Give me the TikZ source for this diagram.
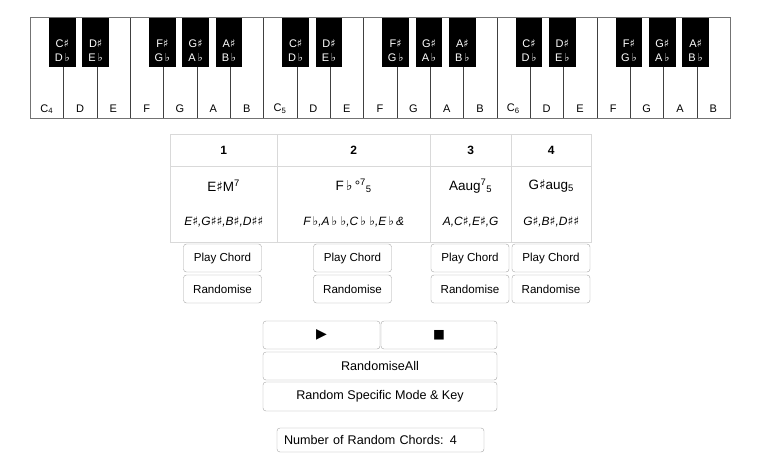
\documentclass[tikz,border=0pt]{standalone}
\usepackage{fontspec}
\setmainfont{Liberation Sans}
\newfontfamily\symfont{DejaVu Sans}
\usetikzlibrary{positioning}
\newcommand{\shp}{{\symfont ♯}}
\newcommand{\flt}{{\symfont ♭}}

\tikzset{
  whitekey/.style={draw=black!75, fill=white, anchor=north west, minimum width=33.33pt, minimum height=101pt, inner sep=0pt},
  blackkey/.style={fill=black, anchor=north, minimum width=26.7pt, minimum height=50pt, inner sep=0pt},
  keytext/.style={font=\fontsize{11}{12}\selectfont, inner sep=0pt},
  blacktext/.style={font=\fontsize{11}{13}\selectfont, inner sep=0pt, text=white, align=center},
  cell/.style={draw=black!15, anchor=north west, inner sep=0pt},
  btn/.style={draw=black!35, rounded corners=3pt, minimum width=78pt, minimum height=28pt, inner sep=0pt, font=\fontsize{11.6}{14}\selectfont},
  bigbtn/.style={btn, font=\fontsize{12.6}{15}\selectfont}
}

\begin{document}
\begin{tikzpicture}[x=1pt, y=-1pt]
  \fill[white] (0,0) rectangle (768,464);
  \useasboundingbox (0,0) rectangle (768,464);

  % keyboard
  \foreach \o/\oct in {0/4,1/5,2/6}
    \foreach \k/\n in {0/C,1/D,2/E,3/F,4/G,5/A,6/B} {
      \pgfmathsetmacro{\i}{int(7*\o+\k)}
      \node[whitekey] (w\i) at ({30+\i*33.333},17) {};
      \node[keytext] (wl\i) at ({46.67+\i*33.333},109) {\ifnum\k=0 \n\textsubscript{\oct}\else\n\fi};
    }
  \foreach \o in {0,1,2}
    \foreach \k/\s/\f in {0/C/D,1/D/E,3/F/G,4/G/A,5/A/B} {
      \node[blackkey] (b\o\k) at ({30+(7*\o+\k+1)*33.333-1},17) {};
      \node[blacktext] (bl\o\k) at ({30+(7*\o+\k+1)*33.333-1},50.5) {\s\shp\\[1pt]\f\,\flt};
    }
  \draw[black!55] (w0.north west) rectangle (w20.south east);

  % chord table
  \foreach \c/\l/\w in {1/170/107,2/277/153,3/430/81,4/511/80} {
    \node[cell, minimum width=\w pt, minimum height=32pt] (h\c) at (\l,134) {};
    \node[font=\bfseries\fontsize{12}{14}\selectfont] (ht\c) at (h\c.center) {\c};
    \node[cell, minimum width=\w pt, minimum height=76pt, below=0pt of h\c.south west, anchor=north west] (c\c) {};
  }
  \tikzset{chord/.style={font=\fontsize{13.5}{15}\selectfont, inner sep=0pt}, notes/.style={font=\itshape\fontsize{12}{14}\selectfont, inner sep=0pt}}
  \node[chord] (n1) at (h1 |- 0,186) {E\shp M\textsuperscript{7}};
  \node[chord] (n2) at (h2 |- 0,186) {F\,\flt\,°\textsuperscript{7}\textsubscript{5}};
  \node[chord] (n3) at (h3 |- 0,186) {Aaug\textsuperscript{7}\textsubscript{5}};
  \node[chord] (n4) at (h4 |- 0,186) {G\shp aug\textsubscript{5}};
  \node[notes] (m1) at (h1 |- 0,222) {E\shp,G\shp\shp,B\shp,D\shp\shp};
  \node[notes] (m2) at (h2 |- 0,222) {F\,\flt,A\,\flt\ \flt,C\,\flt\ \flt,E\,\flt\,\&};
  \node[notes] (m3) at (h3 |- 0,222) {A,C\shp,E\shp,G};
  \node[notes] (m4) at (h4 |- 0,222) {G\shp,B\shp,D\shp\shp};

  % buttons
  \foreach \c/\x in {1/222.5,2/352.5,3/470,4/551} {
    \node[btn] (p\c) at (\x,258) {Play Chord};
    \node[btn] (r\c) at (\x,289) {Randomise};
  }

  \node[btn, minimum width=117pt] (play) at (321.5,335) {\fontsize{14}{14}\symfont ▶};
  \node[btn, minimum width=116pt] (stop) at (439,335) {\fontsize{12.5}{14}\symfont ■};
  \node[bigbtn, minimum width=234pt] (rall) at (380,366) {RandomiseAll};
  \node[bigbtn, minimum width=234pt, minimum height=29pt] (rspec) at (380,396.5) {Random Specific Mode \& Key};
  \node[bigbtn, minimum width=207pt, minimum height=24pt, text width=193pt, align=left] (num) at (380.5,440) {Number of Random Chords: 4};
\end{tikzpicture}
\end{document}
